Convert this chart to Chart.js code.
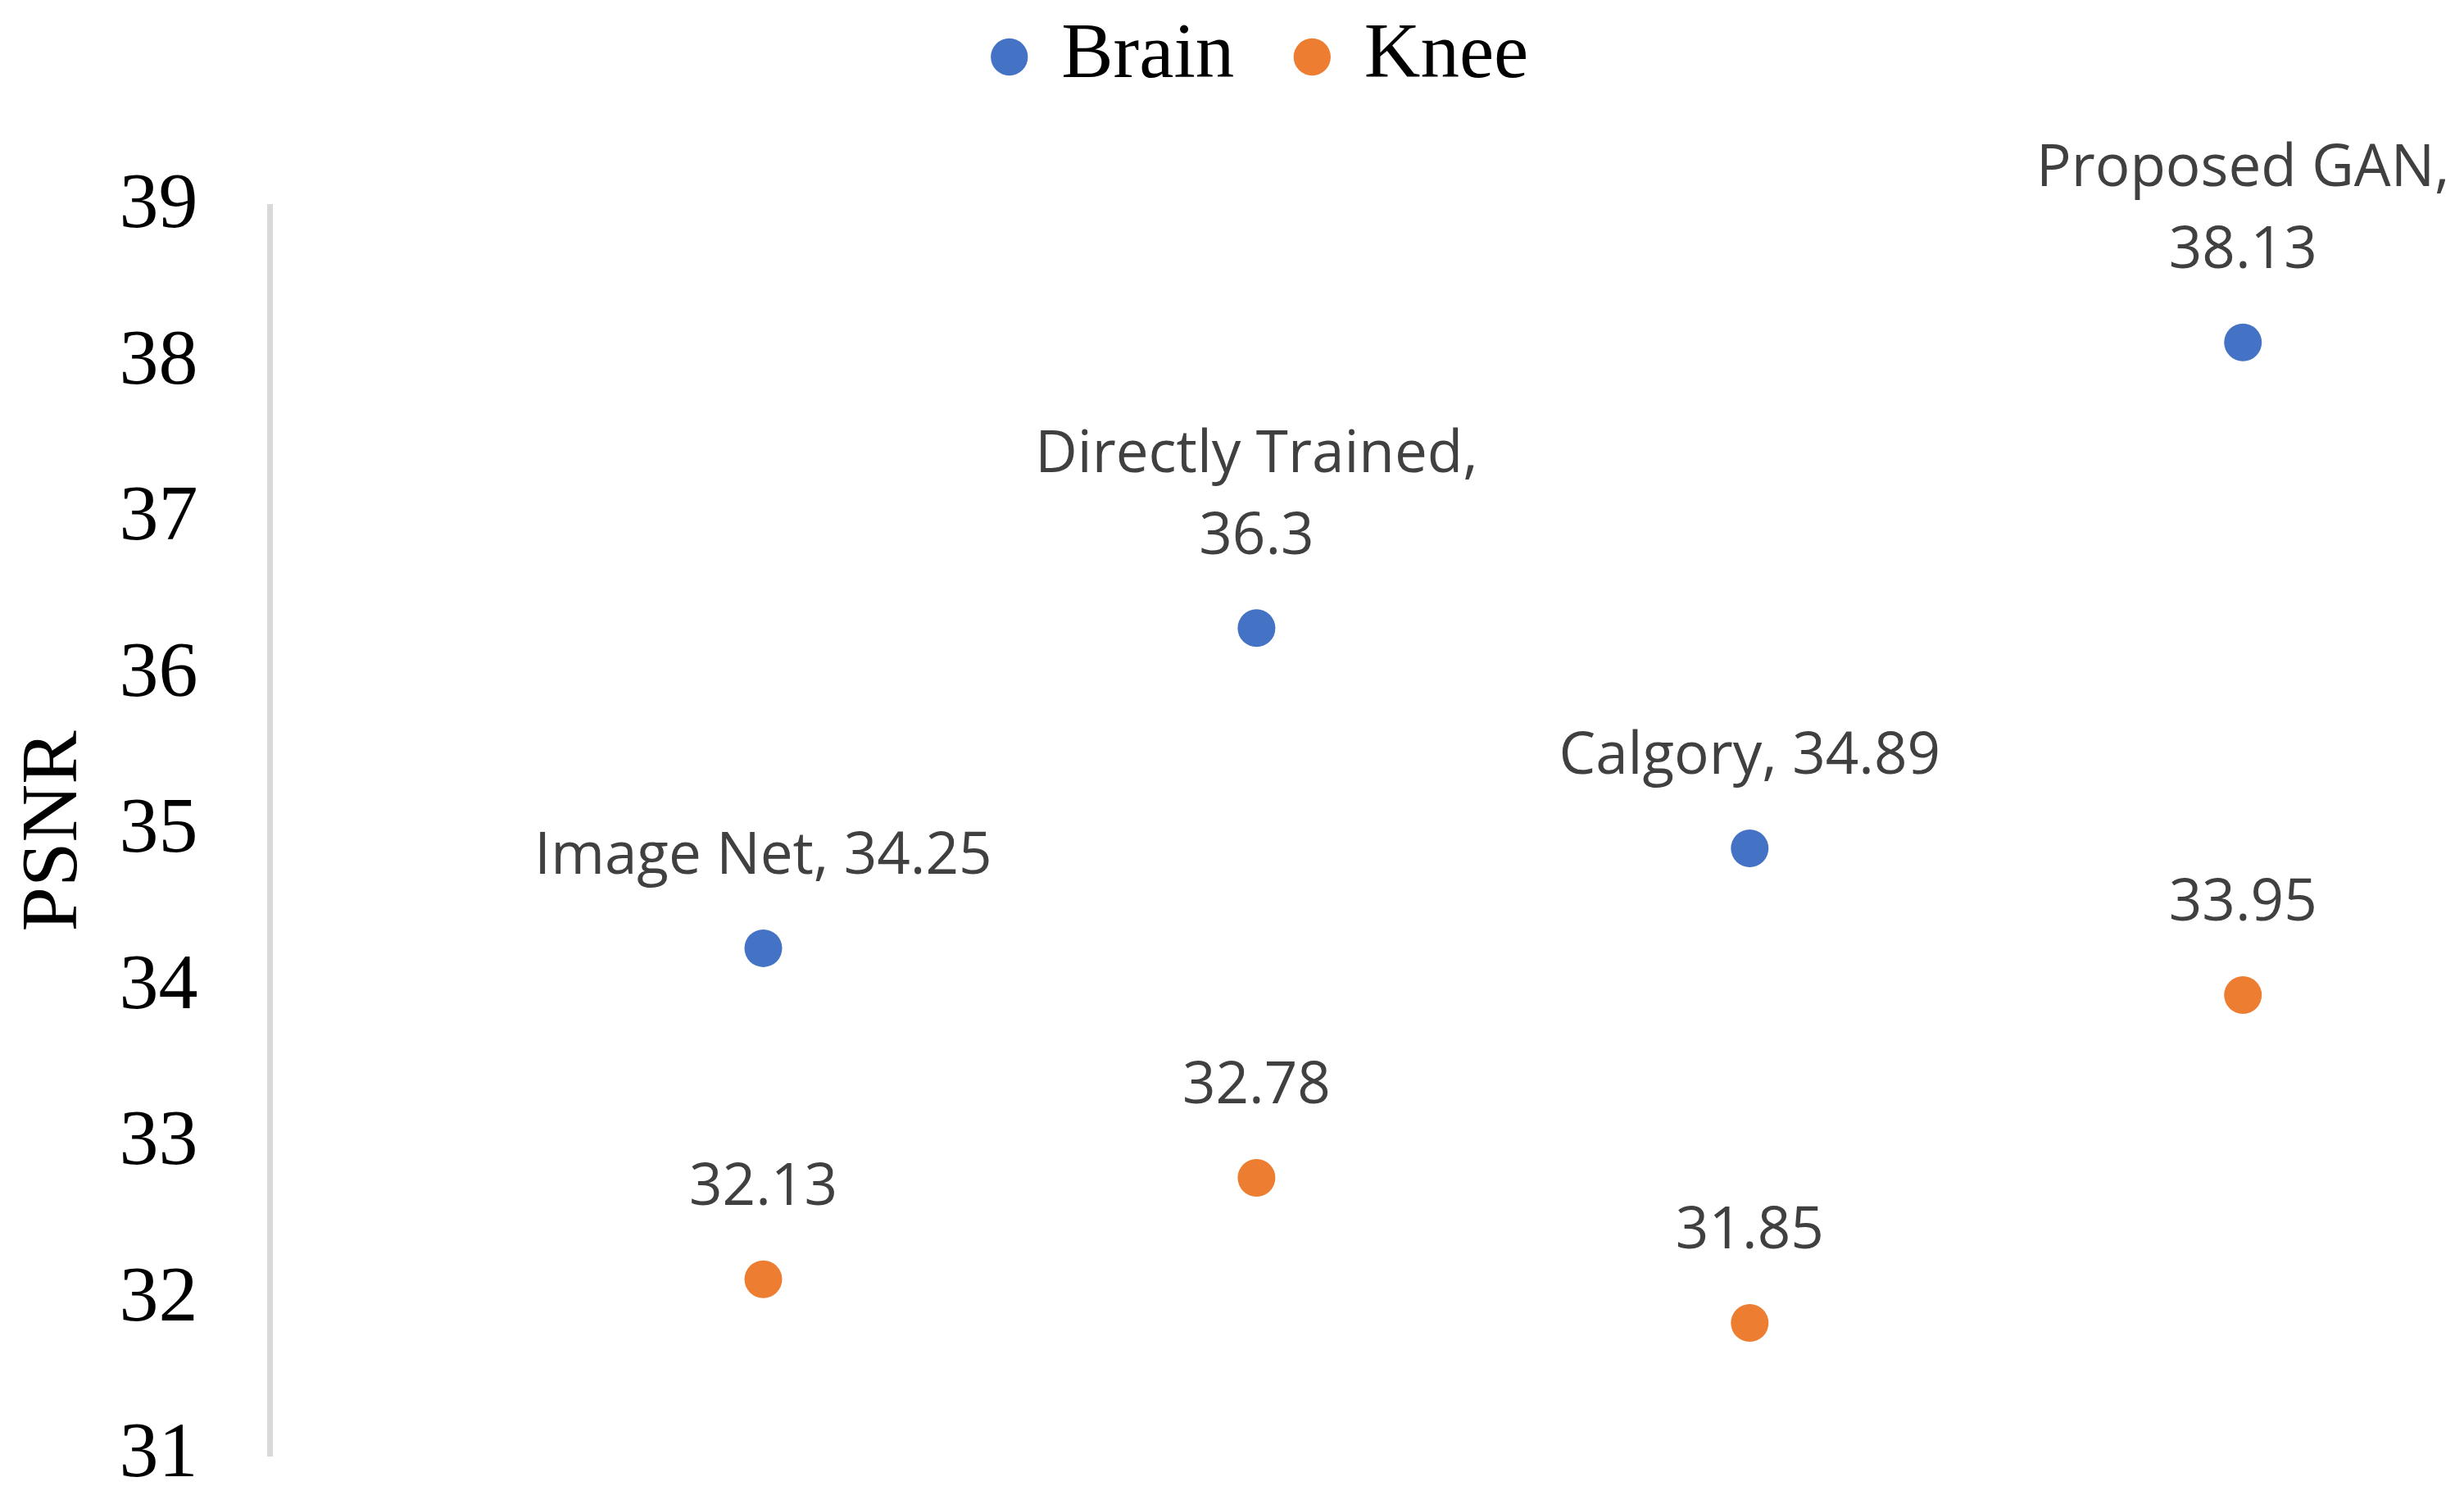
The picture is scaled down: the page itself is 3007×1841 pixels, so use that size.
<!DOCTYPE html>
<html>
<head>
<meta charset="utf-8">
<script src="https://cdn.jsdelivr.net/npm/chart.js@4"></script>
<style>
  html, body { margin: 0; padding: 0; background: #fff; overflow: hidden; }
  #chart { display: block; }
</style>
</head>
<body>
<canvas id="chart" width="3007" height="1841"></canvas>
<script>
// ============ DATA ============

const methods = ['Image Net', 'Directly Trained', 'Calgory', 'Proposed GAN'];
const brainPsnr = [34.25, 36.3, 34.89, 38.13];
const kneePsnr = [32.13, 32.78, 31.85, 33.95];
const yTicks = [31, 32, 33, 34, 35, 36, 37, 38, 39];

// labels above brain points: name + value, some wrapped onto two lines
const brainLabels = [
  ['Image Net, 34.25'],
  ['Directly Trained,', '36.3'],
  ['Calgory, 34.89'],
  ['Proposed GAN,', '38.13']
];
const kneeLabels = kneePsnr.map(v => [String(v)]);

function toPoints(values) {
  return values.map((v, i) => ({ x: i + 1, y: v }));
}

// ============ PLUGINS ============

const pointLabels = {
  id: 'pointLabels',
  afterDatasetsDraw(chart) {
    const ctx = chart.ctx;
    ctx.save();
    ctx.font = '71px "Open Sans"';
    ctx.fillStyle = '#404040';
    ctx.textAlign = 'center';
    ctx.textBaseline = 'middle';
    chart.data.datasets.forEach((ds, di) => {
      const meta = chart.getDatasetMeta(di);
      meta.data.forEach((pt, i) => {
        const lines = ds.pointText[i];
        lines.forEach((line, k) => {
          const fromBottom = lines.length - 1 - k;
          ctx.fillText(line, pt.x, pt.y - 111 - fromBottom * 100);
        });
      });
    });
    ctx.restore();
  }
};

// ============ CHART ============

const ctx = document.getElementById('chart').getContext('2d');

new Chart(ctx, {
  type: 'scatter',
  data: {
    datasets: [
      {
        label: 'Brain',
        data: toPoints(brainPsnr),
        pointText: brainLabels,
        backgroundColor: '#4472C4',
        borderColor: '#4472C4',
        pointRadius: 23,
        pointHoverRadius: 23,
        borderWidth: 0
      },
      {
        label: 'Knee',
        data: toPoints(kneePsnr),
        pointText: kneeLabels,
        backgroundColor: '#ED7D31',
        borderColor: '#ED7D31',
        pointRadius: 23,
        pointHoverRadius: 23,
        borderWidth: 0
      }
    ]
  },
  options: {
    responsive: false,
    animation: false,
    devicePixelRatio: 1,
    layout: {
      // negative right only moves the full-width legend; plot keeps the point overflow gap
      padding: { top: -57, left: 0, right: -74, bottom: 65 }
    },
    plugins: {
      legend: {
        position: 'top',
        labels: {
          usePointStyle: true,
          pointStyle: 'circle',
          boxWidth: 32,
          boxHeight: 32,
          padding: 79,
          color: '#000',
          font: { family: '"Liberation Serif"', size: 95 }
        }
      },
      // empty spacer between legend and plot
      subtitle: {
        display: true,
        text: '',
        weight: 500,
        font: { size: 10, lineHeight: 1 },
        padding: { top: 0, bottom: 115 }
      },
      tooltip: { enabled: false }
    },
    scales: {
      x: {
        type: 'linear',
        min: 0,
        max: 4.41,
        display: false
      },
      y: {
        min: 31,
        max: 39,
        afterBuildTicks: axis => {
          axis.ticks = yTicks.map(v => ({ value: v }));
        },
        // grid hidden; tick length only keeps the gap between labels and axis
        grid: { display: false, drawTicks: true, tickLength: 88 },
        border: { display: true, color: '#d9d9d9', width: 7 },
        ticks: {
          padding: 0,
          color: '#000',
          font: { family: '"Liberation Serif"', size: 96 }
        },
        title: {
          display: true,
          text: 'PSNR',
          color: '#000',
          padding: { top: 8, bottom: 20 },
          font: { family: '"Liberation Serif"', size: 98 }
        }
      }
    }
  },
  plugins: [pointLabels]
});
</script>
</body>
</html>
